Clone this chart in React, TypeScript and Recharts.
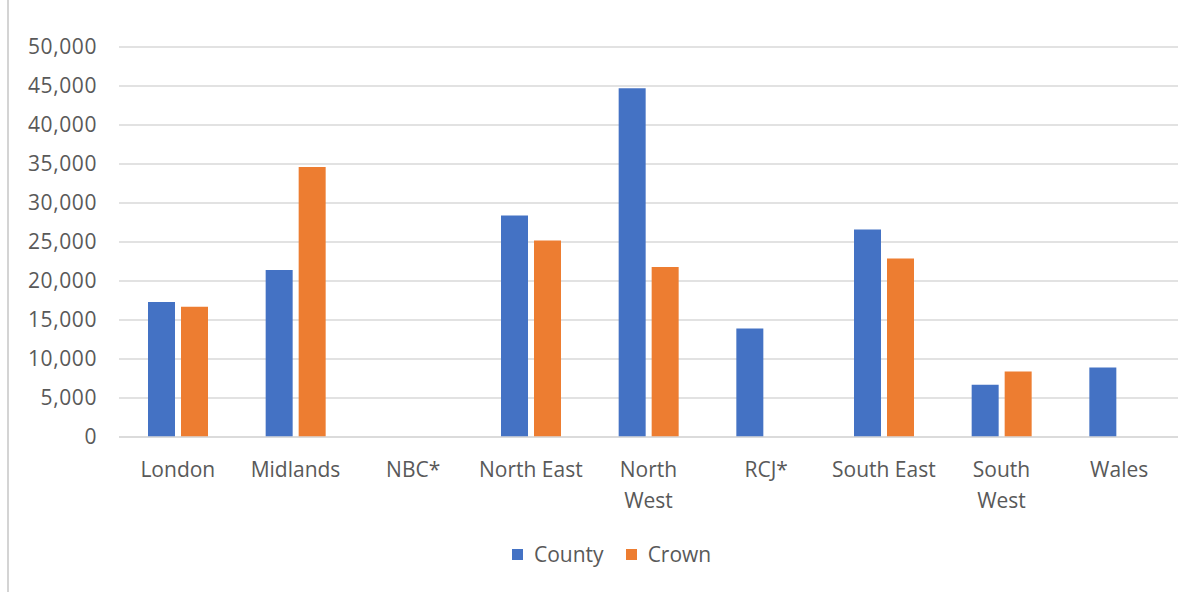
import { BarChart, Bar, XAxis, YAxis, CartesianGrid, Legend } from 'recharts';

const regions = ['London', 'Midlands', 'NBC*', 'North East', 'North West', 'RCJ*', 'South East', 'South West', 'Wales'];
// how each region name wraps under the axis
const regionLines = [['London'], ['Midlands'], ['NBC*'], ['North East'], ['North', 'West'], ['RCJ*'], ['South East'], ['South', 'West'], ['Wales']];
const county = [17300, 21400, 0, 28400, 44700, 13900, 26600, 6700, 8900];
const crown = [16700, 34600, 0, 25200, 21800, 0, 22900, 8400, 0];
const yTicks = [0, 5000, 10000, 15000, 20000, 25000, 30000, 35000, 40000, 45000, 50000];

const BLUE = '#4472C4';
const ORANGE = '#ED7D31';
const TEXT = '#595959';
const GRID = '#d9d9d9';
const FONT = '"Open Sans", sans-serif';

const data = regions.map((region, i) => ({ region, County: county[i], Crown: crown[i] }));

function RegionTick({ x, y, index }: { x: number; y: number; index: number }) {
  const lines = regionLines[index] ?? [];
  return (
    <g transform={`translate(${x},${y})`}>
      {lines.map((line, i) => (
        <text key={line} x={0} y={32 + i * 31} textAnchor="middle" fill={TEXT} fontSize={21} fontFamily={FONT}>
          {line}
        </text>
      ))}
    </g>
  );
}

function LegendBox() {
  const items = [
    { name: 'County', color: BLUE },
    { name: 'Crown', color: ORANGE },
  ];
  return (
    <div style={{ display: 'flex', alignItems: 'center', gap: 22, fontFamily: FONT, fontSize: 21, color: TEXT }}>
      {items.map((it) => (
        <div key={it.name} style={{ display: 'flex', alignItems: 'center', gap: 11 }}>
          <span style={{ width: 11, height: 11, background: it.color, display: 'inline-block' }} />
          <span>{it.name}</span>
        </div>
      ))}
    </div>
  );
}

export default function App() {
  return (
    <div style={{ position: 'absolute', left: 0, top: 0, width: 1203, height: 592, background: '#fff' }}>
      <div style={{ position: 'absolute', left: 7, top: 0, width: 2, height: 592, background: '#d4d4d4' }} />
      <BarChart
        width={1203}
        height={592}
        data={data}
        margin={{ top: 47, right: 25, bottom: 0, left: 0 }}
        barCategoryGap={29}
        barGap={6}
      >
        <CartesianGrid vertical={false} stroke={GRID} strokeWidth={1.5} />
        <XAxis
          dataKey="region"
          height={155}
          axisLine={{ stroke: GRID, strokeWidth: 1.5 }}
          tickLine={false}
          interval={0}
          tick={(props: any) => <RegionTick {...props} />}
        />
        <YAxis
          width={119}
          domain={[0, 50000]}
          ticks={yTicks}
          axisLine={false}
          tickLine={false}
          tickMargin={16}
          tick={{ fill: TEXT, fontSize: 21, fontFamily: FONT, letterSpacing: 0.6 }}
          tickFormatter={(v: number) => v.toLocaleString('en-GB')}
        />
        <Legend
          verticalAlign="middle"
          content={() => <LegendBox />}
          wrapperStyle={{ top: 540, left: 512, width: 'auto' }}
        />
        <Bar dataKey="County" fill={BLUE} isAnimationActive={false} />
        <Bar dataKey="Crown" fill={ORANGE} isAnimationActive={false} />
      </BarChart>
    </div>
  );
}
